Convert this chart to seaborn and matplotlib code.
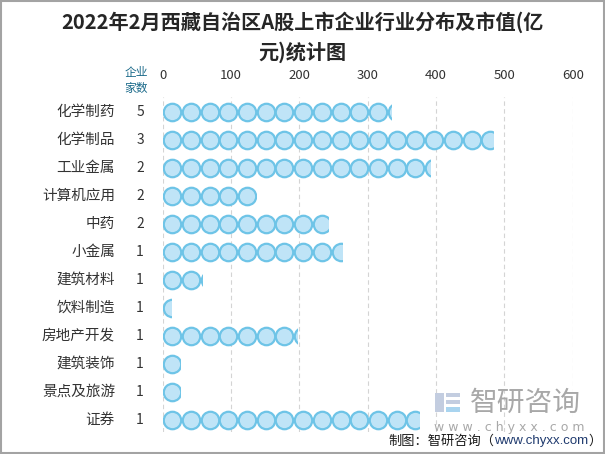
import numpy as np
import pandas as pd
import matplotlib
matplotlib.use("Agg")
import matplotlib.pyplot as plt
import matplotlib.transforms as mtransforms
from matplotlib.patches import Rectangle
import seaborn as sns

categories = ['化学制药', '化学制品', '工业金属', '计算机应用', '中药', '小金属',
              '建筑材料', '饮料制造', '房地产开发', '建筑装饰', '景点及旅游', '证券']
counts = [5, 3, 2, 2, 2, 1, 1, 1, 1, 1, 1, 1]
values = [334, 484, 391, 136, 242, 263, 57, 12, 197, 26, 25, 375]
xticks = [0, 100, 200, 300, 400, 500, 600]

sns.set_theme(style="white")
plt.rcParams['font.family'] = ['Noto Sans CJK SC', 'DejaVu Sans']

W, H = 605, 454
fig = plt.figure(figsize=(W / 100, H / 100), dpi=100)
fig.patch.set_facecolor('white')
ax = fig.add_axes([162.7 / W, 1 - 431.5 / H, (572.7 - 162.7) / W, (431.5 - 97) / H])

step = 27.4  # value units per symbol
face = '#bfe4f7'
edge = '#6ec4e7'

for i, (cat, v) in enumerate(zip(categories, values)):
    n = int(np.ceil(v / step))
    df = pd.DataFrame({'x': step / 2 + step * np.arange(n), 'y': [i] * n})
    before = len(ax.collections)
    sns.scatterplot(data=df, x='x', y='y', ax=ax, s=158, color=face,
                    edgecolor=edge, linewidth=1.6, legend=False, zorder=3)
    coll = ax.collections[before]
    clip = Rectangle((0, i - 0.5), v, 1.0, transform=ax.transData)
    coll.set_clip_path(clip)

ax.set_xlim(0, 600)
ax.set_ylim(11 + 11.5 / 28, -15 / 28)
ax.set_xticks(xticks)
ax.set_xticklabels([str(t) for t in xticks])
ax.xaxis.tick_top()
ax.tick_params(axis='x', length=0, pad=11, labelsize=9.5, labelcolor='#333333')
ax.set_yticks([])
ax.set_xlabel('')
ax.set_ylabel('')
for s in ax.spines.values():
    s.set_visible(False)
ax.grid(axis='x', color='#d4d4d4', linestyle=(0, (4, 3)), linewidth=0.8)
ax.set_axisbelow(True)

trans = mtransforms.blended_transform_factory(fig.transFigure, ax.transData)
for i, (cat, c) in enumerate(zip(categories, counts)):
    ax.text(115 / W, i, cat, transform=trans, ha='right', va='center',
            fontsize=10.5, color='#333333')
    ax.text(140 / W, i, str(c), transform=trans, ha='center', va='center',
            fontsize=10, color='#333333')

fig.text(136.5 / W, 1 - 80.5 / H, '企业\n家数', ha='center', va='center',
         fontsize=8.5, color='#1b6a8a', linespacing=1.25)

fig.text(302 / W, 1 - 37 / H,
         '2022年2月西藏自治区A股上市企业行业分布及市值(亿\n元)统计图',
         ha='center', va='center', fontsize=14.5, fontweight='bold',
         color='#262626', linespacing=1.45)

# watermark logo
for (x0, y0, w, h, c) in [(435, 393, 9, 19, '#c3cde0'),
                          (446, 393, 14, 4, '#c3cde0'),
                          (446, 400, 14, 4, '#c3cde0'),
                          (446, 407, 14, 5, '#a9d4ef')]:
    fig.patches.append(Rectangle((x0 / W, 1 - (y0 + h) / H), w / W, h / H,
                                 transform=fig.transFigure, facecolor=c,
                                 edgecolor='none'))
fig.text(525 / W, 1 - 403 / H, '智研咨询', ha='center', va='center',
         fontsize=20, color='#a8a8a8')
fig.text(509 / W, 1 - 428 / H, 'w w w . c h y x x . c o m', ha='center',
         va='center', fontsize=9, color='#a8a8a8', family=['DejaVu Sans'])

# footer, placed piece by piece
renderer = fig.canvas.get_renderer()
fy = 1 - 441 / H
t1 = fig.text(388 / W, fy, '制图：智研咨询（', ha='left', va='center',
              fontsize=9.5, color='#1a1a1a')
x1 = t1.get_window_extent(renderer=renderer).x1
t2 = fig.text(x1 / W, fy, 'www.chyxx.com', ha='left', va='center',
              fontsize=9.5, color='#1f3a6e', family=['Liberation Sans'])
x2 = t2.get_window_extent(renderer=renderer).x1
fig.text(x2 / W, fy, '）', ha='left', va='center',
         fontsize=9.5, color='#1a1a1a')

# border
fig.patches.append(Rectangle((1 / W, 1.5 / H), (W - 2) / W, (H - 2.5) / H,
                             transform=fig.transFigure, facecolor='none',
                             edgecolor='#a3a3a3', linewidth=1.5))

fig.savefig('out.png', dpi=100, facecolor='white')
